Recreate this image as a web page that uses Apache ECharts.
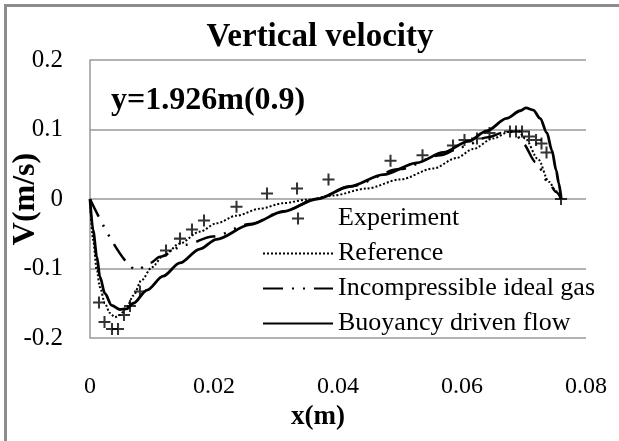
<!DOCTYPE html>
<html>
<head>
<meta charset="utf-8">
<script src="https://cdn.jsdelivr.net/npm/echarts@6/dist/echarts.min.js"></script>
<style>
  html, body { margin: 0; padding: 0; background: #fff; }
  #chart { width: 619px; height: 441px; }
</style>
</head>
<body>
<div id="chart"></div>
<script>
// Vertical velocity profile across the cavity at y = 1.926 m
const xTicks = ['0', '0.02', '0.04', '0.06', '0.08'];
const yTicks = ['-0.2', '-0.1', '0', '0.1', '0.2'];

// Experiment (measured points)
const expX = [0.00145, 0.00234, 0.00355, 0.00452, 0.00548, 0.00645, 0.00806, 0.01226, 0.01452, 0.01645,
  0.01839, 0.02363, 0.02855, 0.03339, 0.03847, 0.04847, 0.05363, 0.05855, 0.0604, 0.06242,
  0.06444, 0.06774, 0.06871, 0.06968, 0.07081, 0.07194, 0.07282, 0.07363, 0.07597];
const expV = [-0.149, -0.177, -0.187, -0.187, -0.167, -0.154, -0.133, -0.074, -0.057, -0.044,
  -0.031, -0.011, 0.008, 0.015, 0.028, 0.055, 0.063, 0.077, 0.085, 0.087,
  0.095, 0.097, 0.097, 0.097, 0.090, 0.085, 0.080, 0.067, 0.0];

// Reference solution
const refX = [0, 0.0005, 0.0011, 0.0016, 0.0024, 0.0032, 0.0040, 0.0048, 0.0059, 0.0070,
  0.0083, 0.0100, 0.0118, 0.0145, 0.0177, 0.0204, 0.0236, 0.0274, 0.0312, 0.0350,
  0.0392, 0.0446, 0.0500, 0.0554, 0.0591, 0.0618, 0.0650, 0.0677, 0.0690, 0.0702,
  0.0723, 0.0740, 0.0752, 0.0760];
const refV = [0, -0.059, -0.103, -0.127, -0.150, -0.164, -0.170, -0.167, -0.156, -0.139,
  -0.117, -0.098, -0.082, -0.064, -0.047, -0.035, -0.024, -0.014, -0.006, -0.001,
  0.005, 0.015, 0.028, 0.044, 0.059, 0.072, 0.087, 0.097, 0.099, 0.087,
  0.057, 0.025, 0.011, 0.0];

// Incompressible ideal gas model
const incX = [0, 0.0076, 0.0097, 0.0113, 0.0153, 0.0198, 0.0258, 0.0311, 0.0366, 0.0419,
  0.0500, 0.0565, 0.0600, 0.0642, 0.0665, 0.0685, 0.0698, 0.0719, 0.0740, 0.0752, 0.0760];
const incV = [0, -0.102, -0.092, -0.083, -0.066, -0.054, -0.036, -0.018, 0.000, 0.018,
  0.043, 0.063, 0.075, 0.089, 0.095, 0.097, 0.080, 0.053, 0.023, 0.010, 0.0];

// Buoyancy driven flow model
const buoX = [0, 0.0005, 0.0011, 0.0016, 0.0024, 0.0035, 0.0048, 0.0059, 0.0070, 0.0092,
  0.0118, 0.0145, 0.0177, 0.0204, 0.0258, 0.0312, 0.0366, 0.0419, 0.0473, 0.0527,
  0.0570, 0.0610, 0.0640, 0.0672, 0.0694, 0.0703, 0.0715, 0.0726, 0.0737, 0.0745,
  0.0752, 0.0756, 0.0760];
const buoV = [0, -0.045, -0.083, -0.112, -0.136, -0.153, -0.159, -0.158, -0.150, -0.131,
  -0.111, -0.092, -0.072, -0.058, -0.037, -0.018, 0.000, 0.018, 0.035, 0.052,
  0.067, 0.083, 0.098, 0.116, 0.127, 0.131, 0.128, 0.116, 0.095, 0.070,
  0.041, 0.023, 0.0];

const seriesNames = ['Experiment', 'Reference', 'Incompressible ideal gas', 'Buoyancy driven flow'];

const pair = (xs, ys) => xs.map((x, i) => [x, ys[i]]);
const FONT = '"Liberation Serif", "Times New Roman", serif';
const plusPath = 'path://M4.15,0 H5.85 V4.15 H10 V5.85 H5.85 V10 H4.15 V5.85 H0 V4.15 H4.15 Z';

const chart = echarts.init(document.getElementById('chart'), null, { renderer: 'canvas' });

// curves are drawn as plain lines; the transparent item colour keeps
// the legend from showing a point marker on top of each line sample
const lineBase = {
  type: 'line',
  symbol: 'none',
  smooth: 0.3,
  smoothMonotone: 'x',
  itemStyle: { color: 'rgba(0,0,0,0)', borderWidth: 0 },
  z: 3
};

chart.setOption({
  animation: false,
  backgroundColor: '#fff',
  textStyle: { fontFamily: FONT, color: '#000' },
  title: [
    {
      text: 'Vertical velocity',
      left: 320, top: 21, textAlign: 'center', padding: 0,
      textStyle: { fontFamily: FONT, fontWeight: 'bold', fontSize: 33, color: '#000' }
    },
    {
      text: 'y=1.926m(0.9)',
      left: 111, top: 85, padding: 0,
      textStyle: { fontFamily: FONT, fontWeight: 'bold', fontSize: 32, color: '#000' }
    }
  ],
  graphic: [
    {
      type: 'rect',
      shape: { x: 5.5, y: 5.5, width: 700, height: 600 },
      style: { fill: 'none', stroke: '#8c8c8c', lineWidth: 3 },
      silent: true, z: 0
    }
  ],
  legend: {
    orient: 'vertical',
    left: 262, top: 201,
    itemWidth: 70, itemHeight: 12, itemGap: 0,
    padding: 0,
    textStyle: { fontFamily: FONT, fontSize: 26, color: '#000', lineHeight: 35 },
    data: seriesNames
  },
  grid: { left: 90, right: 33, top: 60, bottom: 103, outerBoundsMode: 'none' },
  xAxis: {
    type: 'value',
    min: 0, max: 0.08, interval: 0.02,
    name: 'x(m)', nameLocation: 'middle', nameGap: 66, nameMoveOverlap: false,
    nameTextStyle: { fontFamily: FONT, fontWeight: 'bold', fontSize: 27, color: '#000', padding: [0, 40, 0, 0] },
    axisLine: { show: false },
    axisTick: { show: false },
    splitLine: { show: false },
    axisLabel: {
      margin: 37,
      fontFamily: FONT, fontSize: 24, color: '#000',
      formatter: v => xTicks[Math.round(v / 0.02)]
    }
  },
  yAxis: {
    type: 'value',
    min: -0.2, max: 0.2, interval: 0.1,
    name: 'V(m/s)', nameLocation: 'middle', nameGap: 48, nameRotate: 90, nameMoveOverlap: false,
    nameTextStyle: { fontFamily: FONT, fontWeight: 'bold', fontSize: 32, color: '#000' },
    axisLine: { show: true, onZero: false, lineStyle: { color: '#999', width: 1.5 } },
    axisTick: { show: false },
    splitLine: { show: true, lineStyle: { color: '#999', width: 1.5 } },
    axisLabel: {
      margin: 27,
      fontFamily: FONT, fontSize: 25, color: '#000',
      formatter: v => yTicks[Math.round((v + 0.2) / 0.1)]
    }
  },
  series: [
    {
      name: seriesNames[0],
      type: 'scatter',
      symbol: plusPath,
      symbolSize: 12,
      itemStyle: { color: '#000' },
      data: pair(expX, expV),
      z: 4
    },
    Object.assign({}, lineBase, {
      name: seriesNames[1],
      lineStyle: { color: '#000', width: 2, type: [2, 2] },
      data: pair(refX, refV)
    }),
    Object.assign({}, lineBase, {
      name: seriesNames[2],
      lineStyle: { color: '#000', width: 2.5, type: [20, 9, 2, 9, 2, 9] },
      data: pair(incX, incV)
    }),
    Object.assign({}, lineBase, {
      name: seriesNames[3],
      lineStyle: { color: '#000', width: 2.8 },
      data: pair(buoX, buoV)
    })
  ]
});
</script>
</body>
</html>
